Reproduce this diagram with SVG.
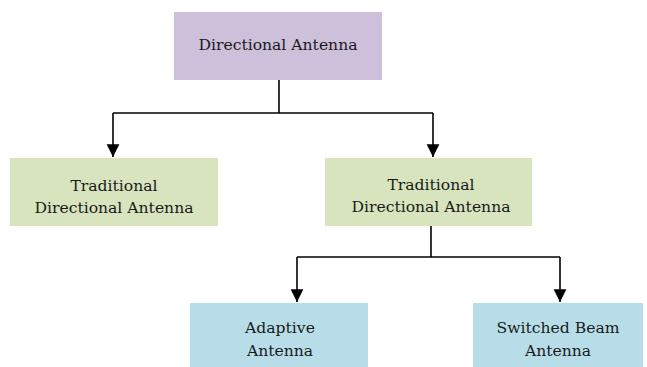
<svg xmlns="http://www.w3.org/2000/svg" width="647" height="367" viewBox="0 0 647 367">
<style>
.t{font-family:"DejaVu Serif","Liberation Serif",serif;font-size:15.6px;fill:#1a1a1a;text-anchor:middle}
.c{fill:none;stroke:#000;stroke-width:1.6}
.p{fill:#CCC0DA}.g{fill:#D7E4BD}.b{fill:#B7DEE8}
</style>
<defs>
<marker id="ah" viewBox="0 0 10 10" refX="10" refY="5" markerWidth="8" markerHeight="8.5" markerUnits="strokeWidth" orient="auto">
<path d="M0,0 L10,5 L0,10 Z" fill="#000"/>
</marker>
</defs>
<rect width="647" height="367" fill="#fff"/>
<g id="connectors">
<path class="c" d="M279,80 V113"/>
<path class="c" d="M113,113 H433"/>
<path class="c" d="M113,113 V157" marker-end="url(#ah)"/>
<path class="c" d="M433,113 V157" marker-end="url(#ah)"/>
<path class="c" d="M431,226 V257"/>
<path class="c" d="M297,257 H560"/>
<path class="c" d="M297,257 V302" marker-end="url(#ah)"/>
<path class="c" d="M560,257 V302" marker-end="url(#ah)"/>
</g>
<g id="n-root">
<rect class="p" x="174" y="12" width="208" height="68"/>
<text class="t" x="278" y="50">Directional Antenna</text>
</g>
<g id="n-trad1">
<rect class="g" x="10" y="158" width="208" height="68"/>
<text class="t" x="114" y="191">Traditional</text>
<text class="t" x="114" y="213">Directional Antenna</text>
</g>
<g id="n-trad2">
<rect class="g" x="325" y="158" width="207" height="68"/>
<text class="t" x="431" y="190">Traditional</text>
<text class="t" x="431" y="212">Directional Antenna</text>
</g>
<g id="n-adaptive">
<rect class="b" x="190" y="303" width="178" height="70"/>
<text class="t" x="280" y="333">Adaptive</text>
<text class="t" x="280" y="356">Antenna</text>
</g>
<g id="n-switched">
<rect class="b" x="473" y="303" width="170" height="70"/>
<text class="t" x="558" y="333">Switched Beam</text>
<text class="t" x="558" y="356">Antenna</text>
</g>
</svg>
